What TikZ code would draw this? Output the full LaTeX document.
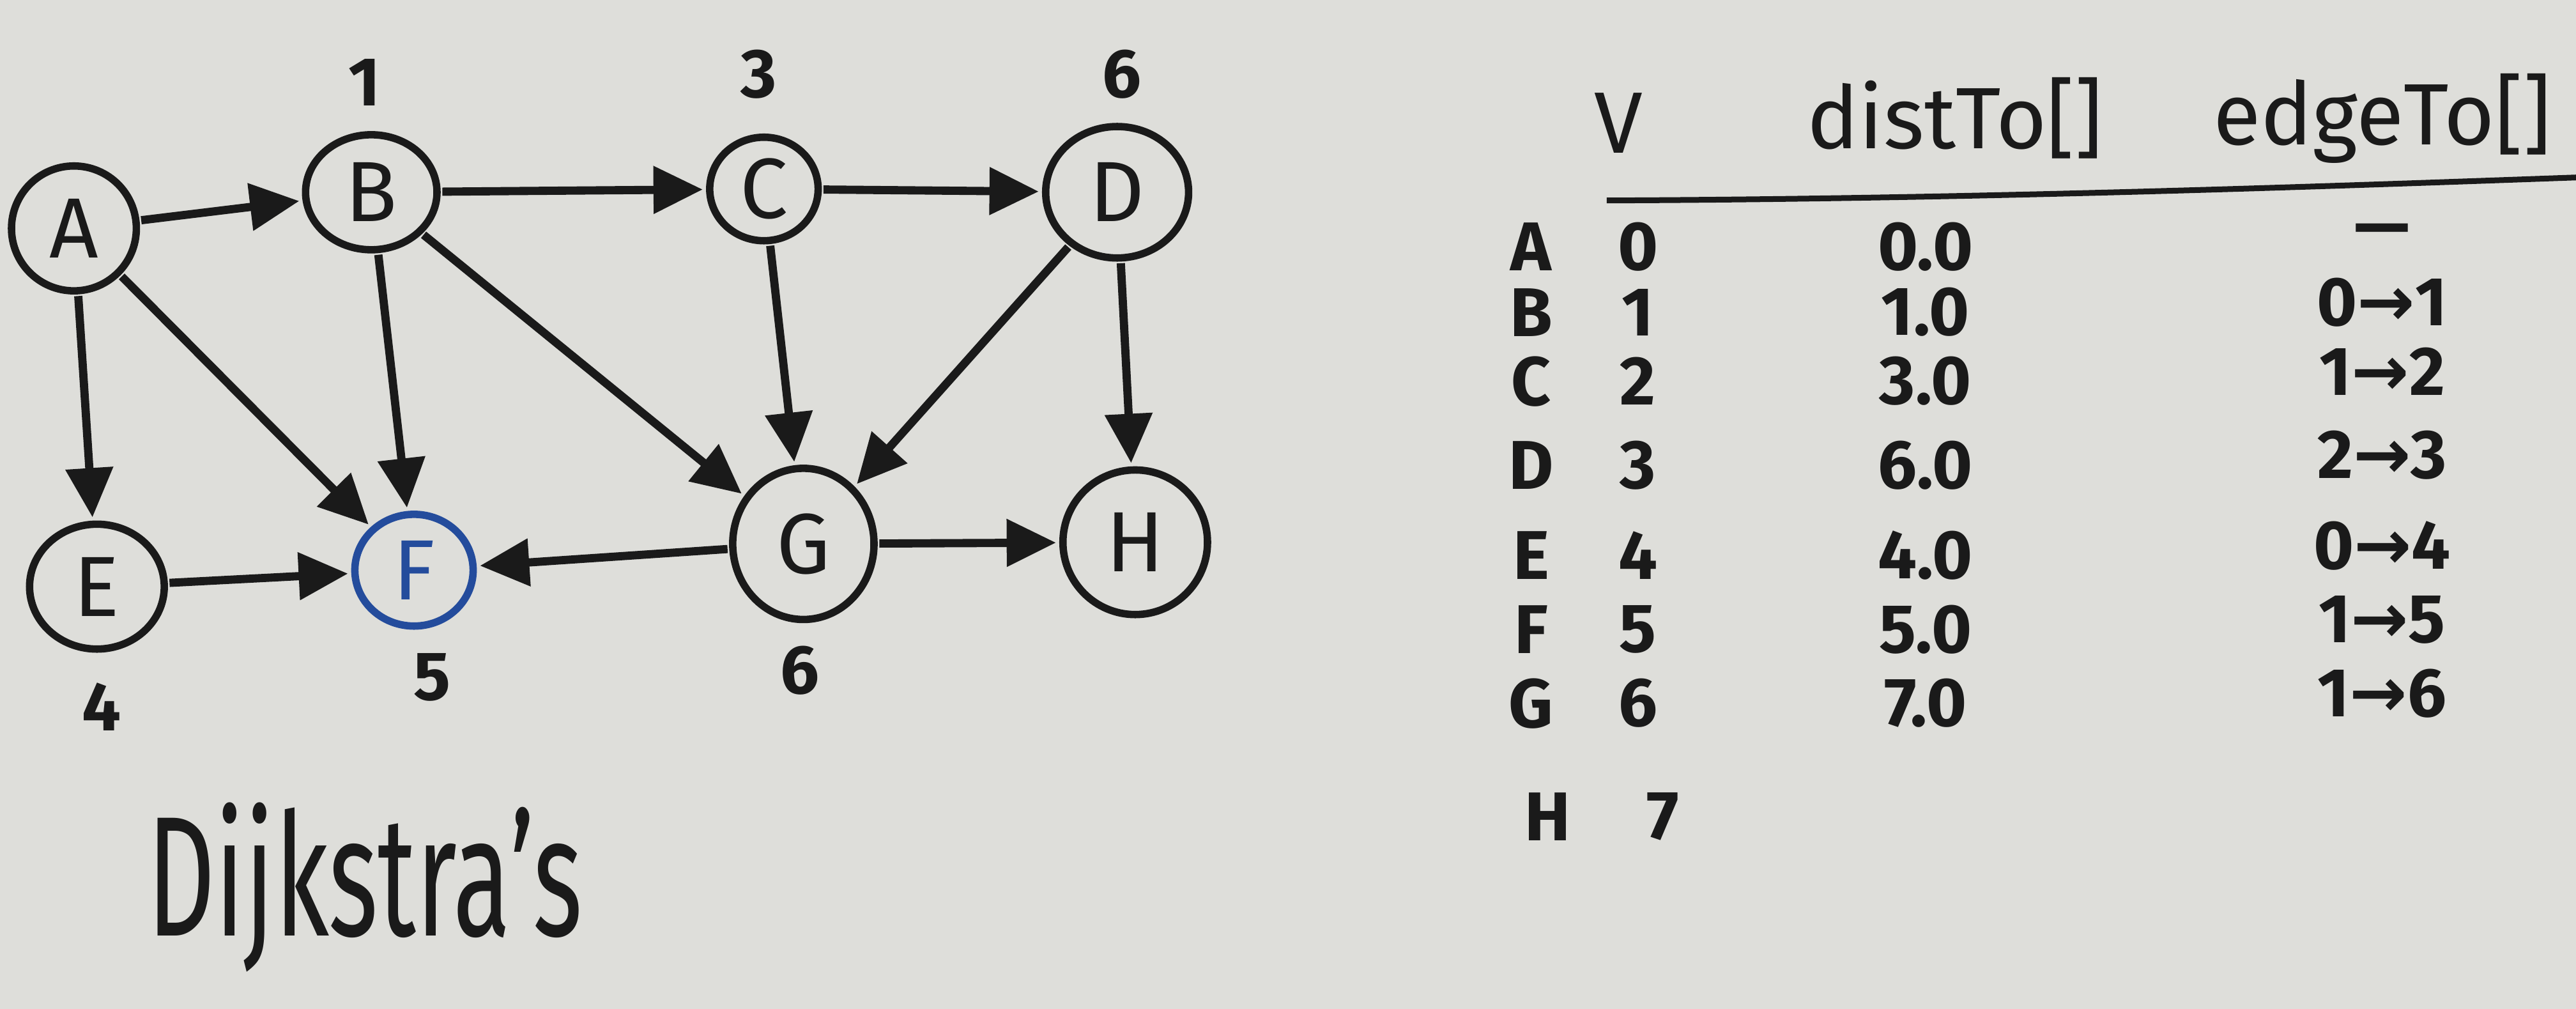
\documentclass[tikz,border=0pt]{standalone}
\usepackage{fontspec}
\setmainfont{Fira Sans}
\newfontfamily\arrfont{DejaVu Sans}
\usetikzlibrary{arrows.meta,shapes.geometric}
\definecolor{board}{RGB}{222,222,218}
\definecolor{ink}{RGB}{26,26,26}
\definecolor{blueink}{RGB}{36,76,156}
\begin{document}
\begin{tikzpicture}[x=1pt,y=-1pt,
  vert/.style={draw=ink, line width=4.5pt, ellipse, inner sep=0pt, text=ink,
    font=\fontsize{52}{52}\selectfont},
  edge/.style={draw=ink, line width=5pt, -{Triangle[length=30pt,width=28pt]}, shorten >=2pt, shorten <=1pt},
  lbl/.style={text=ink, font=\fontsize{42}{42}\selectfont\bfseries},
  head/.style={text=ink, font=\fontsize{53}{53}\selectfont},
  cell/.style={text=ink, font=\fontsize{42}{42}\selectfont\bfseries},
]
\fill[board] (0,0) rectangle (1568,614);
\useasboundingbox (0,0) rectangle (1568,614);

% vertices
\node[vert, minimum width=76pt, minimum height=76pt] (A) at (45,139) {A};
\node[vert, minimum width=80pt, minimum height=70pt] (B) at (226,117) {B};
\node[vert, minimum width=66pt, minimum height=63pt] (C) at (465,115) {C};
\node[vert, minimum width=87pt, minimum height=80pt] (D) at (680,117) {D};
\node[vert, minimum width=82pt, minimum height=76pt] (E) at (59,357) {E};
\node[vert, draw=blueink, text=blueink, minimum width=72pt, minimum height=68pt] (F) at (252,347) {F};
\node[vert, minimum width=86pt, minimum height=92pt] (G) at (489,331) {G};
\node[vert, minimum width=88pt, minimum height=88pt] (H) at (691,330) {H};

% distance labels
\node[lbl] (lB) at (222,50) {1};
\node[lbl] (lC) at (462,45) {3};
\node[lbl] (lD) at (683,45) {6};
\node[lbl] (lE) at (62,430) {4};
\node[lbl] (lF) at (263,412) {5};
\node[lbl] (lG) at (487,408) {6};

% edges
\draw[edge] (A) -- (B);
\draw[edge] (B) -- (C);
\draw[edge] (C) -- (D);
\draw[edge] (A) -- (E);
\draw[edge] (A) -- (F);
\draw[edge] (B) -- (F);
\draw[edge] (B) -- (G);
\draw[edge] (C) -- (G);
\draw[edge] (D) -- (G);
\draw[edge] (D) -- (H);
\draw[edge] (E) -- (F);
\draw[edge] (G) -- (F);
\draw[edge] (G) -- (H);

% title
\node[text=ink, font=\fontsize{104}{104}\selectfont] (title) at (222,540) {\scalebox{0.62}[1]{Dijkstra's}};

% table header
\node[head] (hV) at (985,75) {V};
\node[head] (hD) at (1190,72) {distTo[]};
\node[head] (hE) at (1450,72) {edgeTo[]};
\coordinate (r1) at (978,122);
\coordinate (r2) at (1568,108);
\draw[ink, line width=3.5pt] (r1) .. controls (1200,121) and (1400,114) .. (r2);

% rows
\foreach \n/\v/\d/\e/\y in {A/0/0.0/{\,—\,}/150, B/1/1.0/{0{\arrfont→}1}/190, C/2/3.0/{1{\arrfont→}2}/232,
  D/3/6.0/{2{\arrfont→}3}/283, E/4/4.0/{0{\arrfont→}4}/338, F/5/5.0/{1{\arrfont→}5}/383, G/6/7.0/{1{\arrfont→}6}/428}{
  \node[cell] (n\n) at (932,\y) {\n};
  \node[cell] (v\n) at (997,\y) {\v};
  \node[cell] (d\n) at (1172,\y) {\d};
  \node[cell] (e\n) at (1450,\y-6) {\e};
}
\node[cell] (nH) at (942,497) {H};
\node[cell] (vH) at (1012,497) {7};
\end{tikzpicture}
\end{document}
